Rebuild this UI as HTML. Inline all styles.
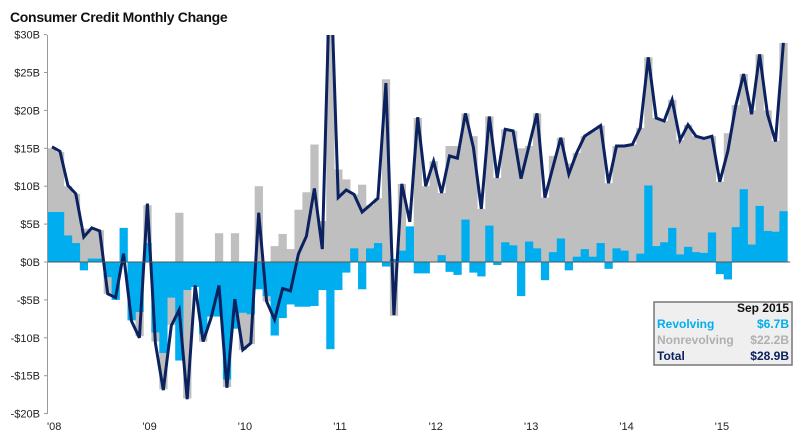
<!DOCTYPE html>
<html><head><meta charset="utf-8"><style>
body{margin:0;background:#fff;font-family:"Liberation Sans",sans-serif;}
#wrap{position:relative;width:800px;height:444px;overflow:hidden;}
</style></head><body>
<div id="wrap">
<svg id="c" width="800" height="444"></svg>
</div>
<script>
const startYear = 2008;
const yTicks = [30,25,20,15,10,5,0,-5,-10,-15,-20];
const yearLabels = ["'08","'09","'10","'11","'12","'13","'14","'15"];
const revolving = [6.6,6.6,3.5,2.5,-1.1,0.45,0.45,-2.0,-5.0,4.5,-7.7,-6.6,2.5,-9.3,-12.0,-4.7,-13.0,-3.7,-3.3,-9.5,-7.2,-7.2,-15.5,-8.8,-6.7,-6.9,-3.6,-4.5,-9.7,-7.4,-5.6,-5.9,-5.9,-5.8,-3.7,-11.5,-3.7,-1.4,1.8,-3.6,1.8,2.5,-0.6,0.4,1.5,4.7,-1.5,-1.5,0,0.9,-1.3,-1.7,5.6,-1.4,-1.9,4.8,-0.4,2.6,2.2,-4.5,2.7,1.8,-2.4,1.3,3.1,-1.1,0.7,1.7,0.7,2.5,-0.9,1.8,1.5,0.1,1.1,10.1,2.1,2.6,4.5,1.0,2.0,1.3,1.2,3.9,-1.6,-2.3,4.6,9.6,2.3,7.4,4.1,4.0,6.7];
const nonrevolving = [15,14.5,10,9,4.4,4.4,4.2,-4.2,-3.5,0.3,-7.7,-9.8,7.5,-10.5,-16.8,-8.3,6.5,-18,-3.3,-10.5,-4.1,3.8,-16.5,3.8,-11.6,-10.8,10,-5.2,2.1,3.7,1.7,6.9,9.2,15.5,5.4,40,12.2,10.9,8.9,10.2,7.5,8.4,24.1,-7.1,10.3,3.7,19,10,13.3,9.1,15.3,15.3,19.6,16.6,7.0,19.2,11.1,17.5,17.3,15.0,15.3,19.6,8.5,14.0,16.4,13.0,14.4,16.6,17.3,18.0,10.4,15.3,15.3,15.5,17.7,27.0,19.0,18.6,21.4,16.1,18.1,16.6,16.3,16.6,10.6,17.0,20.7,24.8,20.0,27.4,20.0,16.0,28.9];
const total = [15.2,14.6,10.1,9.0,3.3,4.5,4.1,-4.2,-4.7,1.1,-7.8,-10.0,7.7,-10.7,-16.9,-8.4,-6.3,-18.1,-3.1,-10.5,-7.4,-3.1,-16.6,-4.9,-11.6,-10.7,6.5,-5.2,-7.6,-3.5,-3.8,1.1,3.4,9.7,1.7,40,8.5,9.5,8.9,6.6,7.5,8.4,23.6,-7.0,10.3,5.3,19.1,10.0,13.3,9.1,14.0,13.7,19.6,15.1,7.0,19.2,11.1,17.5,17.3,11.0,15.3,19.6,8.5,12.5,16.4,11.6,14.4,16.6,17.3,18.0,10.4,15.3,15.3,15.5,17.7,27.0,19.0,18.6,21.4,16.1,18.1,16.6,16.3,16.6,10.6,14.6,20.6,24.8,19.5,27.4,19.5,15.9,28.9];

const NS="http://www.w3.org/2000/svg";
const svg=document.getElementById('c');
const X0=48, DX=7.95, Y0=262, K=7.58;
function y(v){return Y0 - v*K;}
function xl(i){return X0 + i*DX;}
function xc(i){return X0 + 4 + i*DX;}
function mk(tag,attrs,parent){const e=document.createElementNS(NS,tag);for(const k in attrs)e.setAttribute(k,attrs[k]);(parent||svg).appendChild(e);return e;}

const defs=mk('defs',{});
const cp=mk('clipPath',{id:'plot'},defs);
mk('rect',{x:40,y:35,width:760,height:380},cp);

const title=mk('text',{x:10,y:22,'font-size':'14','font-weight':'bold',fill:'#111','letter-spacing':'-0.3'});
title.textContent='Consumer Credit Monthly Change';



const g=mk('g',{'clip-path':'url(#plot)'});


nonrevolving.forEach((v,i)=>{
  const r=mk('rect',{x:xl(i),y:Math.min(y(0),y(v)),width:DX+0.3,height:Math.abs(v*K),fill:'#bfbfbf'},g);
  
  
});
revolving.forEach((v,i)=>{
  const r=mk('rect',{x:xl(i),y:Math.min(y(0),y(v)),width:DX+0.3,height:Math.abs(v*K),fill:'#00aeef'},g);
  
  
});
const zl=mk('line',{x1:47,x2:790,y1:y(0),y2:y(0),stroke:'#555','stroke-width':1});


const pts=total.map((v,i)=>xc(i).toFixed(1)+','+y(v).toFixed(1)).join(' ');
const pl=mk('polyline',{points:pts,fill:'none',stroke:'#0c2260','stroke-width':3,'stroke-linejoin':'miter'},g);



const ax=mk('line',{x1:47.5,x2:47.5,y1:35,y2:414,stroke:'#999','stroke-width':1});


yTicks.forEach(v=>{
  const t=mk('line',{x1:44,x2:47,y1:y(v),y2:y(v),stroke:'#999'});
  
  
  const l=mk('text',{x:40,y:y(v)+4,'font-size':'11','text-anchor':'end',fill:'#222'});
  l.textContent=(v<0?'-$':'$')+Math.abs(v)+'B';
  
  
});
yearLabels.forEach((s,k)=>{
  const l=mk('text',{x:xl(k*12)-1,y:430,'font-size':'11',fill:'#222'});
  l.textContent=s;
  
  
});

// legend box
const lg=mk('g',{});


mk('rect',{x:654,y:302,width:138,height:63,fill:'#efefef',stroke:'#777','stroke-width':1.5},lg);
const last=total.length-1;
const rows=[['Sep 2015','',"#111",312],['Revolving','$'+revolving[last].toFixed(1)+'B','#00aeef',328],['Nonrevolving','$'+(total[last]-revolving[last]).toFixed(1)+'B','#b0b0b0',344],['Total','$'+total[last].toFixed(1)+'B','#0c2260',360]];
rows.forEach((r,i)=>{
  if(i===0){
    const t=mk('text',{x:789,y:r[3],'font-size':'12','font-weight':'bold','text-anchor':'end',fill:r[2]},lg);
    t.textContent=r[0];
    
    
  } else {
    const a=mk('text',{x:657,y:r[3],'font-size':'12','font-weight':'bold',fill:r[2]},lg);
    a.textContent=r[0];
    
    
    const b=mk('text',{x:789,y:r[3],'font-size':'12','font-weight':'bold','text-anchor':'end',fill:r[2]},lg);
    b.textContent=r[1];
    
    
  }
});
</script>
</body></html>
